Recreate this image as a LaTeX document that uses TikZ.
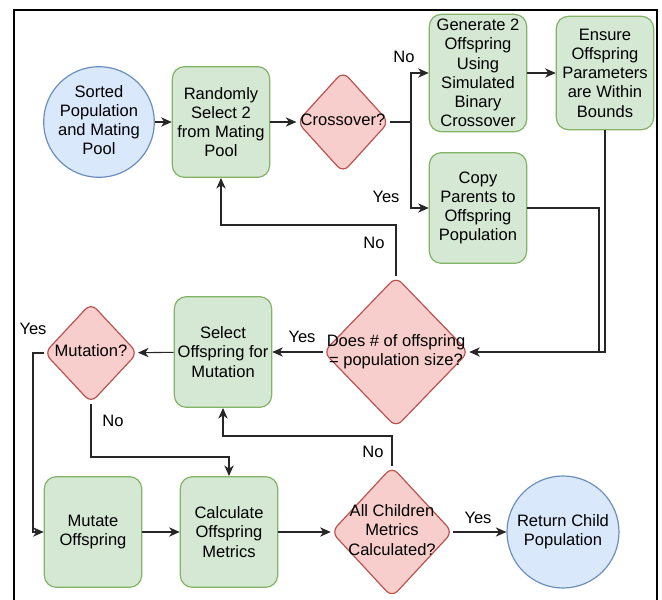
\documentclass[tikz,border=0pt]{standalone}
\usepackage{fontspec}
\setmainfont{Liberation Sans}
\usepackage{xcolor}
\usepackage{tikz}
\usetikzlibrary{arrows.meta,shapes.geometric}
\definecolor{boxgreen}{HTML}{D5E8D4}
\definecolor{boxgreenline}{HTML}{82B366}
\definecolor{diared}{HTML}{F8CECC}
\definecolor{diaredline}{HTML}{B85450}
\definecolor{termblue}{HTML}{DAE8FC}
\definecolor{termblueline}{HTML}{6C8EBF}
\newcommand{\stacked}[1]{\makebox[0pt]{\begin{tabular}{@{}c@{}}#1\end{tabular}}}
\tikzset{
  chartfont/.style={font=\fontsize{12.4}{14.4}\selectfont},
  stepbox/.style={chartfont,draw=boxgreenline,fill=boxgreen,line width=0.9pt,rounded corners=9pt,align=center,inner sep=1pt,minimum width=73pt,minimum height=83pt},
  decision/.style={chartfont,diamond,draw=diaredline,fill=diared,line width=0.9pt,rounded corners=6pt,inner sep=0pt},
  terminal/.style={chartfont,circle,draw=termblueline,fill=termblue,line width=0.9pt,inner sep=0pt,minimum size=83pt},
  flow/.style={-{Stealth[length=8pt,width=7pt,inset=2.5pt]},line width=0.8pt,black!85},
  link/.style={line width=0.8pt,black!85},
  lbl/.style={chartfont,inner sep=0pt}
}

\begin{document}
\begin{tikzpicture}[x=0.75pt,y=-0.75pt]
  \useasboundingbox (0,0) rectangle (662,600);
  % outer frame, cut off at the bottom
  \draw[line width=1.6pt] (14,615) -- (14,10) -- (657,10) -- (657,615);

  % top row
  \node[terminal] (pool) at (99,122) {\stacked{Sorted\\Population\\and Mating\\Pool}};
  \node[stepbox] (select) at (221,122) {Randomly\\Select 2\\from Mating\\Pool};
  \node[decision,minimum width=69pt,minimum height=76pt] (cross) at (343,122) {\stacked{Crossover?}};
  \node[stepbox,minimum height=88pt] (sbx) at (478,73) {Generate 2\\Offspring\\Using\\Simulated\\Binary\\Crossover};
  \node[stepbox,minimum height=85pt] (bounds) at (605,73) {Ensure\\Offspring\\Parameters\\are Within\\Bounds};
  \node[stepbox] (copy) at (478,208) {Copy\\Parents to\\Offspring\\Population};

  % middle row
  \node[decision,minimum width=109pt,minimum height=113pt] (full) at (396,352) {\stacked{Does \# of offspring\\= population size?}};
  \node[stepbox] (pick) at (223,352) {Select\\Offspring for\\Mutation};
  \node[decision,minimum width=70pt,minimum height=75pt] (mutq) at (91,353) {\stacked{Mutation?}};

  % bottom row
  \node[stepbox] (mutate) at (93,532) {Mutate\\Offspring};
  \node[stepbox] (calc) at (229,532) {Calculate\\Offspring\\Metrics};
  \node[decision,minimum width=91pt,minimum height=98pt] (done) at (392,532) {\stacked{All Children\\Metrics\\Calculated?}};
  \node[terminal,minimum size=84pt] (ret) at (563,532) {\stacked{Return Child\\Population}};

  % bends
  \coordinate (split) at (411,122);
  \coordinate (merge) at (599,352);
  \coordinate (backtop) at (396,225);
  \coordinate (yesside) at (33,353);
  \coordinate (nodown) at (91,457);
  \coordinate (backmid) at (392,436);

  \draw[flow] (pool) -- (select);
  \draw[flow] (select) -- (cross);
  \draw[link] (cross) -- (split);
  \draw[flow] (split) |- (sbx);
  \draw[flow] (split) |- (copy);
  \draw[flow] (sbx) -- (bounds);
  \draw[link] (copy) -| (merge);
  \draw[flow] (bounds) |- (full);
  \draw[flow] (full.north) -- (backtop) -| (select.south);
  \draw[flow] (full) -- (pick);
  \draw[flow] (pick) -- (mutq);
  \draw[flow] (mutq.west) -- (yesside) |- (mutate.west);
  \draw[flow] (mutq.south) -- (nodown) -| (calc.north);
  \draw[flow] (mutate) -- (calc);
  \draw[flow] (calc) -- (done);
  \draw[flow] (done) -- (ret);
  \draw[flow] (done.north) -- (backmid) -| (pick.south);

  % branch labels
  \node[lbl] (crossno) at (404,57) {No};
  \node[lbl] (crossyes) at (386,197) {Yes};
  \node[lbl] (fullno) at (374,243) {No};
  \node[lbl] (fullyes) at (302,337) {Yes};
  \node[lbl] (mutyes) at (33,329) {Yes};
  \node[lbl] (mutno) at (113,421) {No};
  \node[lbl] (doneno) at (373,452) {No};
  \node[lbl] (doneyes) at (478,518) {Yes};
\end{tikzpicture}
\end{document}
